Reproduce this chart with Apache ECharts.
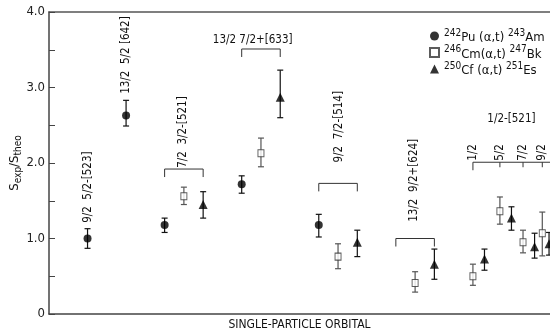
<!DOCTYPE html>
<html>
<head>
<meta charset="utf-8">
<script src="https://cdn.jsdelivr.net/npm/echarts@6/dist/echarts.min.js"></script>
<style>
html, body {margin: 0; padding: 0; background: #fff;}
#myChart {width: 550px; height: 333px;}
</style>
</head>
<body>
<div id="myChart"></div>
<script>
var FONT = "'Liberation Sans Narrow', 'DejaVu Sans Condensed', sans-serif";

//242Pu(a,t)243Am
var puX = [2, 4, 6, 10, 14];
var puY = [1.0, 2.63, 1.18, 1.72, 1.18];
var puLo = [0.87, 2.49, 1.08, 1.60, 1.02];
var puHi = [1.13, 2.83, 1.27, 1.83, 1.32];

//246Cm(a,t)247Bk
var cmX = [7, 11, 15, 19, 22, 23.4, 24.6, 25.6];
var cmY = [1.56, 2.13, 0.76, 0.41, 0.50, 1.36, 0.95, 1.07];
var cmLo = [1.45, 1.95, 0.60, 0.29, 0.38, 1.19, 0.81, 0.77];
var cmHi = [1.68, 2.33, 0.93, 0.56, 0.66, 1.55, 1.11, 1.35];

//250Cf(a,t)251Es
var cfX = [8, 12, 16, 20, 22.6, 24, 25.2, 25.95];
var cfY = [1.45, 2.87, 0.95, 0.66, 0.73, 1.27, 0.89, 0.93];
var cfLo = [1.27, 2.60, 0.76, 0.46, 0.58, 1.11, 0.74, 0.78];
var cfHi = [1.62, 3.23, 1.11, 0.86, 0.86, 1.42, 1.07, 1.08];

//orbital labels
var labelText = ['9/2  5/2-[523]', '13/2  5/2 [642]', '7/2  3/2-[521]', '13/2 7/2+[633]',
    '9/2  7/2-[514]', '13/2  9/2+[624]', '1/2-[521]', '1/2', '5/2', '7/2', '9/2'];
var labelX = [2, 4, 6.94, 10.57, 15.03, 18.96, 24, 22, 23.4, 24.6, 25.6];
var labelY = [1.68, 3.43, 2.41, 3.63, 2.48, 1.77, 2.58, 2.14, 2.14, 2.14, 2.14];
var labelVertical = [true, true, true, false, true, true, false, true, true, true, true];

//brackets
var bracketFrom = [6, 10, 14, 18, 22];
var bracketTo = [8, 12, 16, 20, 26.5];
var bracketY = [1.92, 3.51, 1.73, 1.0, 2.01];
var subTickX = [23.4, 24.6, 25.6];

function zip() {
    var arrs = arguments;
    return arrs[0].map(function (v, i) {
        var row = [];
        for (var k = 0; k < arrs.length; k++) row.push(arrs[k][i]);
        return row;
    });
}

//误差棒
function makeErrorSeries(xs, lo, hi, color) {
    return {
        type: 'custom',
        z: 1,
        clip: true,
        data: zip(xs, lo, hi),
        renderItem: function (params, api) {
            var top = api.coord([api.value(0), api.value(2)]);
            var bottom = api.coord([api.value(0), api.value(1)]);
            var w = 3;
            var st = {stroke: color, lineWidth: 1.2};
            return {
                type: 'group',
                children: [
                    {type: 'line', shape: {x1: top[0], y1: top[1], x2: bottom[0], y2: bottom[1]}, style: st},
                    {type: 'line', shape: {x1: top[0] - w, y1: top[1], x2: top[0] + w, y2: top[1]}, style: st},
                    {type: 'line', shape: {x1: bottom[0] - w, y1: bottom[1], x2: bottom[0] + w, y2: bottom[1]}, style: st}
                ]
            };
        }
    };
}

var option = {
    animation: false,
    backgroundColor: '#fff',
    textStyle: {fontFamily: FONT},
    grid: {left: 49, right: 0, top: 12, bottom: 19, outerBoundsMode: 'none', containLabel: false},
    legend: {
        data: ['Pu', 'Cm', 'Cf'],
        orient: 'vertical',
        left: 424,
        top: 23,
        itemWidth: 9,
        itemHeight: 9,
        itemGap: 0,
        formatter: function (name) {
            if (name == 'Pu') return '{sup|242}{m|Pu (α,t) }{sup|243}{m|Am}';
            if (name == 'Cm') return '{sup|246}{m|Cm(α,t) }{sup|247}{m|Bk}';
            return '{sup|250}{m|Cf (α,t) }{sup|251}{m|Es}';
        },
        textStyle: {
            color: '#111',
            rich: {
                m: {fontSize: 13, fontFamily: FONT, color: '#111', padding: [4, 0, 0, 0]},
                sup: {fontSize: 10, fontFamily: FONT, color: '#111', padding: [0, 0, 6, 0]}
            }
        }
    },
    xAxis: [{
        type: 'value',
        min: 0,
        max: 26,
        position: 'bottom',
        name: 'SINGLE-PARTICLE ORBITAL',
        nameLocation: 'middle',
        nameGap: 5,
        nameTextStyle: {fontSize: 12, color: '#111', fontFamily: FONT},
        axisLine: {lineStyle: {color: '#444', width: 1.5}},
        axisTick: {show: false},
        axisLabel: {show: false},
        splitLine: {show: false}
    }, {
        type: 'value',
        min: 0,
        max: 26,
        position: 'top',
        axisLine: {show: true, lineStyle: {color: '#555', width: 1.5}},
        axisTick: {show: false},
        axisLabel: {show: false},
        splitLine: {show: false}
    }],
    yAxis: {
        type: 'value',
        min: 0,
        max: 4,
        interval: 0.5,
        name: '{m|S}{sub|exp}{m|/S}{sub|theo}',
        nameLocation: 'middle',
        nameGap: 26,
        nameRotate: 90,
        nameMoveOverlap: false,
        nameTextStyle: {
            rich: {
                m: {fontSize: 13, fontFamily: FONT, color: '#111'},
                sub: {fontSize: 10, fontFamily: FONT, color: '#111', padding: [7, 0, 0, 0]}
            }
        },
        axisLine: {show: true, lineStyle: {color: '#444', width: 1.5}},
        axisTick: {show: true, inside: true, length: 6, lineStyle: {color: '#444'}},
        axisLabel: {
            margin: 4,
            fontSize: 13,
            color: '#222',
            fontFamily: FONT,
            formatter: function (value) {
                if (value % 1 !== 0) return '';
                return value === 0 ? '0' : value.toFixed(1);
            }
        },
        splitLine: {show: false}
    },
    series: [
        makeErrorSeries(puX, puLo, puHi, '#111'),
        makeErrorSeries(cmX, cmLo, cmHi, '#555'),
        makeErrorSeries(cfX, cfLo, cfHi, '#111'),
        {
            name: 'Pu',
            type: 'scatter',
            z: 3,
            symbol: 'circle',
            symbolSize: 8,
            itemStyle: {color: '#000'},
            data: zip(puX, puY)
        },
        {
            name: 'Cm',
            type: 'scatter',
            z: 3,
            symbol: 'rect',
            symbolSize: [6, 7],
            itemStyle: {color: '#fff', borderColor: '#333', borderWidth: 1},
            data: zip(cmX, cmY)
        },
        {
            name: 'Cf',
            type: 'scatter',
            z: 3,
            symbol: 'triangle',
            symbolSize: 9,
            itemStyle: {color: '#000'},
            data: zip(cfX, cfY)
        },
        //括号
        {
            type: 'custom',
            z: 2,
            clip: true,
            data: zip(bracketFrom, bracketTo, bracketY),
            renderItem: function (params, api) {
                var a = api.coord([api.value(0), api.value(2)]);
                var b = api.coord([api.value(1), api.value(2)]);
                var d = 8;
                return {
                    type: 'polyline',
                    shape: {points: [[a[0], a[1] + d], a, b, [b[0], b[1] + d]]},
                    style: {stroke: '#333', lineWidth: 1, fill: null}
                };
            }
        },
        {
            type: 'custom',
            z: 2,
            data: subTickX.map(function (x) { return [x, bracketY[4]]; }),
            renderItem: function (params, api) {
                var p = api.coord([api.value(0), api.value(1)]);
                return {
                    type: 'line',
                    shape: {x1: p[0], y1: p[1], x2: p[0], y2: p[1] + 5},
                    style: {stroke: '#333', lineWidth: 1}
                };
            }
        },
        //标签
        {
            type: 'custom',
            z: 2,
            data: zip(labelX, labelY),
            renderItem: function (params, api) {
                var p = api.coord([api.value(0), api.value(1)]);
                var i = params.dataIndex;
                return {
                    type: 'text',
                    x: p[0],
                    y: p[1],
                    rotation: labelVertical[i] ? Math.PI / 2 : 0,
                    style: {
                        text: labelText[i],
                        fontSize: 11.5,
                        fontFamily: FONT,
                        fill: '#111',
                        align: 'center',
                        verticalAlign: 'middle'
                    }
                };
            }
        }
    ]
};

var myChart = echarts.init(document.getElementById('myChart'));
myChart.setOption(option);
</script>
</body>
</html>
